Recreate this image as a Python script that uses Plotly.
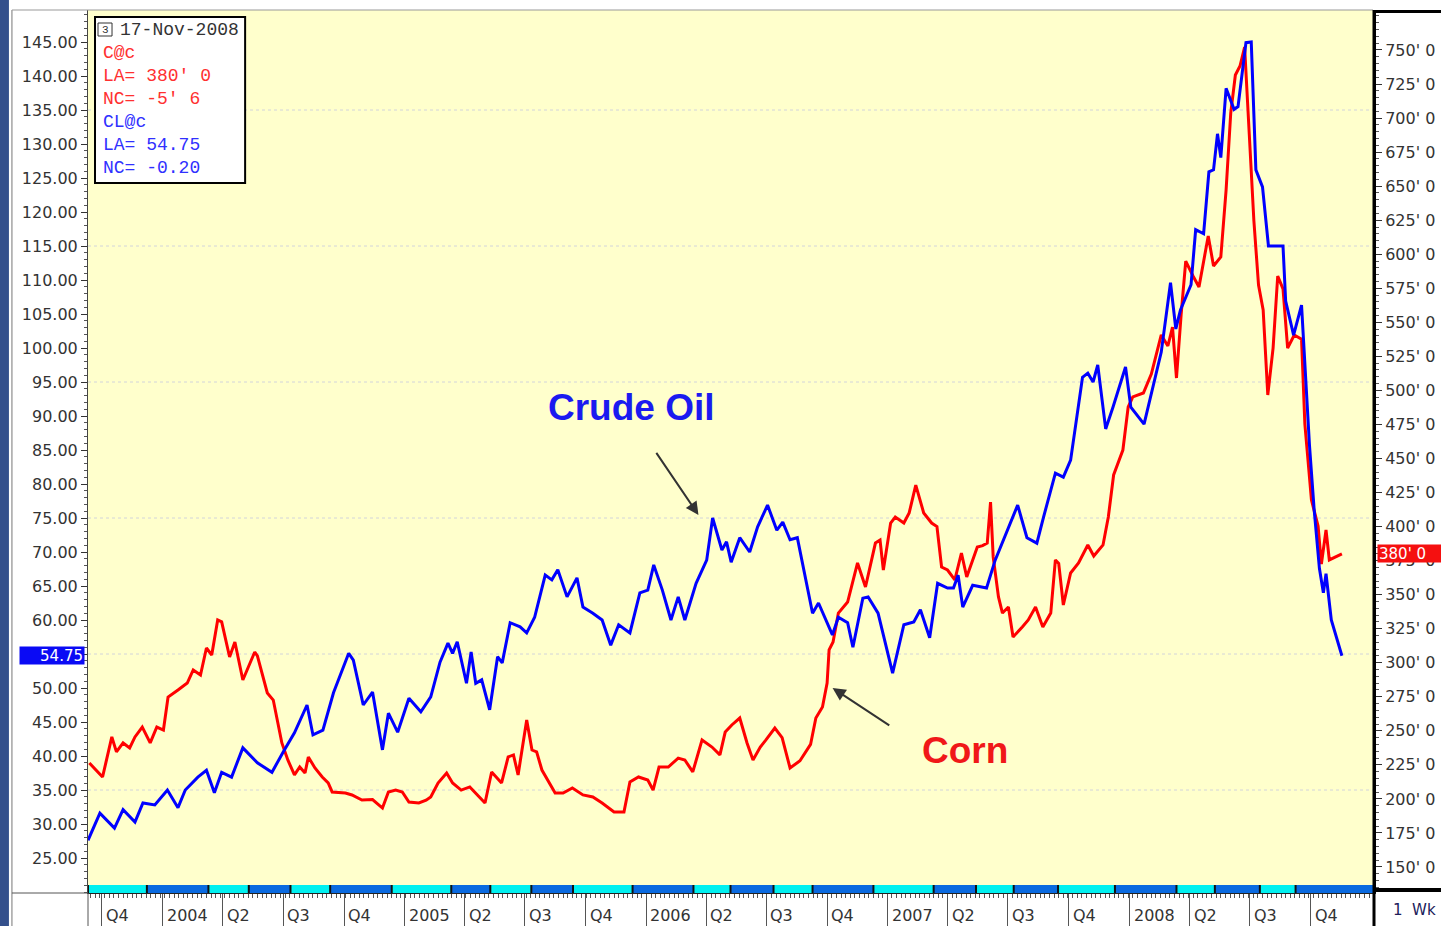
import plotly.graph_objects as go

# ---------------- data ----------------
crude_dates = [
    "2003-09-10", "2003-09-28", "2003-10-20", "2003-11-02", "2003-11-20", "2003-12-02", "2003-12-20",
    "2004-01-08", "2004-01-24", "2004-02-04", "2004-02-23", "2004-03-07", "2004-03-19", "2004-03-30",
    "2004-04-14", "2004-05-01", "2004-05-23", "2004-06-14", "2004-07-01", "2004-07-18", "2004-08-06",
    "2004-08-15", "2004-08-30", "2004-09-15", "2004-10-08", "2004-10-15", "2004-10-30", "2004-11-13",
    "2004-11-28", "2004-12-07", "2004-12-21", "2005-01-07", "2005-01-25", "2005-02-09", "2005-02-23",
    "2005-03-07", "2005-03-14", "2005-03-21", "2005-04-04", "2005-04-11", "2005-04-18", "2005-04-27",
    "2005-05-09", "2005-05-21", "2005-05-28", "2005-06-09", "2005-06-24", "2005-07-04", "2005-07-16",
    "2005-08-01", "2005-08-11", "2005-08-20", "2005-09-03", "2005-09-18", "2005-09-27", "2005-10-12",
    "2005-10-26", "2005-11-08", "2005-11-20", "2005-12-07", "2005-12-22", "2006-01-03", "2006-01-12",
    "2006-01-25", "2006-02-07", "2006-02-18", "2006-02-28", "2006-03-17", "2006-04-02", "2006-04-11",
    "2006-04-25", "2006-05-02", "2006-05-09", "2006-05-22", "2006-06-06", "2006-06-18", "2006-07-03",
    "2006-07-17", "2006-07-26", "2006-08-06", "2006-08-17", "2006-09-09", "2006-09-18", "2006-10-09",
    "2006-10-18", "2006-11-01", "2006-11-09", "2006-11-24", "2006-12-02", "2006-12-17", "2007-01-08",
    "2007-01-25", "2007-02-09", "2007-02-19", "2007-03-05", "2007-03-17", "2007-04-01", "2007-04-10",
    "2007-04-17", "2007-04-24", "2007-05-09", "2007-05-30", "2007-06-12", "2007-06-30", "2007-07-16",
    "2007-07-30", "2007-08-14", "2007-08-24", "2007-09-11", "2007-09-23", "2007-10-04", "2007-10-22",
    "2007-10-30", "2007-11-07", "2007-11-14", "2007-11-26", "2007-12-07", "2007-12-26", "2008-01-03",
    "2008-01-23", "2008-02-18", "2008-03-03", "2008-03-11", "2008-03-18", "2008-04-03", "2008-04-10",
    "2008-04-22", "2008-04-30", "2008-05-07", "2008-05-13", "2008-05-18", "2008-05-26", "2008-06-07",
    "2008-06-13", "2008-06-25", "2008-07-03", "2008-07-10", "2008-07-20", "2008-07-29", "2008-08-20",
    "2008-08-24", "2008-09-05", "2008-09-17", "2008-09-29", "2008-10-06", "2008-10-14", "2008-10-20",
    "2008-10-24", "2008-11-01", "2008-11-17",
]
crude_values = [
    27.6, 31.6, 29.4, 32.1, 30.3, 33.1, 32.8,
    35.0, 32.4, 35.0, 36.9, 37.9, 34.6, 37.6,
    36.9, 41.2, 39.0, 37.6, 40.6, 43.4, 47.5,
    43.1, 43.8, 49.3, 55.1, 54.1, 47.5, 49.4,
    40.9, 46.3, 43.5, 48.5, 46.5, 48.7, 53.8,
    56.6, 55.1, 56.8, 50.7, 55.3, 50.7, 51.2,
    46.8, 54.6, 53.7, 59.6, 59.0, 58.1, 60.4,
    66.6, 65.9, 67.4, 63.4, 66.2, 61.9, 61.0,
    60.0, 56.3, 59.3, 58.1, 64.0, 64.4, 68.1,
    64.4, 60.0, 63.4, 60.0, 65.4, 68.8, 75.0,
    70.3, 71.5, 68.5, 72.1, 70.0, 73.7, 76.9,
    73.2, 74.4, 71.8, 72.1, 61.0, 62.5, 57.8,
    60.4, 59.6, 56.0, 63.2, 63.4, 61.0, 52.2,
    59.3, 59.7, 61.5, 57.4, 65.4, 64.7, 64.7,
    66.6, 61.9, 65.1, 64.7, 68.8, 73.2, 76.9,
    72.1, 71.3, 75.1, 81.6, 81.0, 83.5, 95.7,
    96.3, 95.0, 97.5, 88.1, 91.3, 97.2, 91.3,
    88.8, 99.4, 109.6, 102.8, 105.6, 109.3, 117.4,
    116.8, 125.9, 126.2, 131.5, 128.0, 138.2, 135.1,
    135.5, 144.9, 145.0, 126.2, 123.7, 115.0, 115.0,
    106.9, 101.9, 106.3, 85.7, 76.3, 67.6, 64.0,
    66.8, 60.0, 54.75,
]

corn_dates = [
    "2003-09-12", "2003-10-02", "2003-10-16", "2003-10-23", "2003-11-02", "2003-11-12", "2003-11-20",
    "2003-12-01", "2003-12-13", "2003-12-23", "2004-01-02", "2004-01-09", "2004-01-24", "2004-02-07",
    "2004-02-16", "2004-02-27", "2004-03-07", "2004-03-15", "2004-03-24", "2004-03-30", "2004-04-11",
    "2004-04-19", "2004-05-01", "2004-05-19", "2004-05-23", "2004-06-07", "2004-06-16", "2004-06-29",
    "2004-07-08", "2004-07-18", "2004-07-26", "2004-08-03", "2004-08-08", "2004-08-18", "2004-08-29",
    "2004-09-07", "2004-09-13", "2004-10-03", "2004-10-13", "2004-10-28", "2004-11-13", "2004-11-28",
    "2004-12-07", "2004-12-18", "2004-12-28", "2005-01-07", "2005-01-22", "2005-02-02", "2005-02-09",
    "2005-02-20", "2005-03-05", "2005-03-14", "2005-03-27", "2005-04-09", "2005-05-02", "2005-05-12",
    "2005-05-27", "2005-06-06", "2005-06-14", "2005-06-21", "2005-07-04", "2005-07-12", "2005-07-19",
    "2005-07-27", "2005-08-16", "2005-08-28", "2005-09-11", "2005-09-27", "2005-10-12", "2005-10-26",
    "2005-11-13", "2005-11-28", "2005-12-07", "2005-12-20", "2006-01-03", "2006-01-11", "2006-01-20",
    "2006-02-03", "2006-02-18", "2006-02-28", "2006-03-12", "2006-03-26", "2006-04-10", "2006-04-22",
    "2006-04-30", "2006-05-10", "2006-05-22", "2006-06-02", "2006-06-11", "2006-06-22", "2006-06-30",
    "2006-07-14", "2006-07-25", "2006-08-06", "2006-08-21", "2006-09-06", "2006-09-14", "2006-09-24",
    "2006-10-01", "2006-10-04", "2006-10-10", "2006-10-18", "2006-11-01", "2006-11-16", "2006-11-28",
    "2006-12-13", "2006-12-20", "2006-12-25", "2007-01-05", "2007-01-12", "2007-01-25", "2007-02-02",
    "2007-02-12", "2007-02-24", "2007-03-08", "2007-03-16", "2007-03-23", "2007-04-01", "2007-04-12",
    "2007-04-22", "2007-04-30", "2007-05-08", "2007-05-16", "2007-05-24", "2007-05-31", "2007-06-05",
    "2007-06-09", "2007-06-17", "2007-06-23", "2007-07-02", "2007-07-09", "2007-07-23", "2007-08-01",
    "2007-08-12", "2007-08-23", "2007-09-04", "2007-09-11", "2007-09-16", "2007-09-23", "2007-10-04",
    "2007-10-16", "2007-10-30", "2007-11-08", "2007-11-22", "2007-11-30", "2007-12-08", "2007-12-22",
    "2007-12-30", "2008-01-06", "2008-01-22", "2008-02-03", "2008-02-18", "2008-02-28", "2008-03-06",
    "2008-03-12", "2008-03-19", "2008-03-26", "2008-04-06", "2008-04-15", "2008-04-29", "2008-05-07",
    "2008-05-18", "2008-05-26", "2008-06-02", "2008-06-09", "2008-06-16", "2008-06-23", "2008-06-30",
    "2008-07-07", "2008-07-14", "2008-07-21", "2008-07-28", "2008-08-05", "2008-08-12", "2008-08-20",
    "2008-08-27", "2008-09-06", "2008-09-17", "2008-09-22", "2008-10-02", "2008-10-12", "2008-10-17",
    "2008-10-24", "2008-10-29", "2008-11-17",
]
corn_values = [
    226.4, 216.1, 245.5, 234.5, 241.1, 237.4, 245.5,
    252.8, 241.1, 252.8, 250.6, 274.8, 280.0, 285.1,
    294.7, 291.0, 310.8, 305.7, 331.4, 330.0, 304.2,
    315.2, 287.3, 307.9, 305.0, 277.8, 272.6, 241.1,
    228.6, 217.6, 223.4, 219.0, 230.8, 222.7, 216.1,
    211.7, 205.1, 204.3, 202.9, 199.2, 199.5, 193.3,
    205.1, 206.5, 205.1, 197.7, 197.0, 199.0, 201.4,
    211.7, 219.0, 211.7, 206.5, 208.8, 197.0, 219.8,
    211.7, 230.8, 232.3, 217.6, 258.0, 235.9, 234.5,
    221.2, 204.3, 204.3, 208.0, 202.9, 201.4, 197.0,
    190.4, 190.4, 212.4, 216.1, 213.9, 206.5, 223.4,
    223.4, 230.0, 228.6, 219.8, 243.3, 238.1, 232.3,
    249.1, 254.3, 259.4, 241.1, 228.6, 238.1, 243.0,
    252.0, 245.0, 222.7, 228.0, 240.0, 259.4, 267.5,
    285.1, 309.4, 315.2, 336.5, 344.6, 373.3, 355.6,
    387.9, 390.1, 368.1, 402.6, 407.0, 402.6, 410.0,
    430.5, 410.0, 402.6, 400.0, 370.3, 368.1, 360.8,
    380.6, 363.0, 373.3, 385.0, 386.0, 387.9, 418.0,
    377.7, 348.3, 336.5, 340.9, 318.9, 326.3, 331.4,
    340.9, 326.3, 336.5, 375.5, 373.0, 342.4, 365.9,
    373.3, 386.5, 378.4, 386.5, 407.0, 437.9, 456.2,
    487.8, 495.2, 498.1, 512.0, 540.7, 532.6, 546.5,
    509.1, 555.4, 595.0, 584.0, 575.9, 613.4, 591.4,
    598.0, 647.2, 703.7, 731.6, 738.2, 752.2, 688.3,
    624.4, 577.4, 559.1, 496.6, 531.1, 584.0, 574.5,
    531.1, 540.7, 537.7, 475.3, 419.5, 400.4, 372.5,
    397.5, 375.5, 380.0,
]

crude_ticks = [25, 30, 35, 40, 45, 50, 55, 60, 65, 70, 75, 80, 85, 90, 95, 100,
               105, 110, 115, 120, 125, 130, 135, 140, 145]
# the 55.00 label is hidden behind the last-value flag in the original
crude_tick_labels = ["" if v == 55 else "%.2f" % v for v in crude_ticks]
corn_ticks = [150, 175, 200, 225, 250, 275, 300, 325, 350, 375, 400, 425, 450,
              475, 500, 525, 550, 575, 600, 625, 650, 675, 700, 725, 750]
corn_tick_labels = ["%d' 0" % v for v in corn_ticks]
grid_levels = [35, 55, 75, 95, 115, 135]

quarter_starts = [
    "2003-10-01", "2004-01-01", "2004-04-01", "2004-07-01", "2004-10-01",
    "2005-01-01", "2005-04-01", "2005-07-01", "2005-10-01",
    "2006-01-01", "2006-04-01", "2006-07-01", "2006-10-01",
    "2007-01-01", "2007-04-01", "2007-07-01", "2007-10-01",
    "2008-01-01", "2008-04-01", "2008-07-01", "2008-10-01",
]
quarter_labels = [
    "Q4", "2004", "Q2", "Q3", "Q4", "2005", "Q2", "Q3", "Q4",
    "2006", "Q2", "Q3", "Q4", "2007", "Q2", "Q3", "Q4",
    "2008", "Q2", "Q3", "Q4",
]
roll_dates = [
    "2003-09-10", "2003-12-08", "2004-03-10", "2004-05-10", "2004-07-12", "2004-09-10",
    "2004-12-12", "2005-03-12", "2005-05-10", "2005-07-11", "2005-09-12", "2005-12-11",
    "2006-03-13", "2006-05-08", "2006-07-12", "2006-09-09", "2006-12-10", "2007-03-11",
    "2007-05-14", "2007-07-10", "2007-09-15", "2007-12-10", "2008-03-12", "2008-05-09",
    "2008-07-16", "2008-09-08", "2009-01-03",
]

legend_lines = [
    ("C@c", "#FF3030"), ("LA= 380' 0", "#FF3030"), ("NC= -5' 6", "#FF3030"),
    ("CL@c", "#3030FF"), ("LA= 54.75", "#3030FF"), ("NC= -0.20", "#3030FF"),
]
last_crude = crude_values[-1]
last_corn = corn_values[-1]

# ---------------- geometry ----------------
# the page is captured slightly larger than the target and squeezed to 1441x926,
# so the figure is laid out on a matching canvas
W, H = 1446, 936
KX, KY = W / 1441.0, H / 926.0
L = 88 * KX
T = 10 * KY
R = W - 1372 * KX
B = H - 893 * KY
PW, PH = W - L - R, H - T - B


def px(xr):
    """reference x pixel -> paper x"""
    return (xr * KX - L) / PW


def py(yr):
    """reference y pixel -> paper y"""
    return (H - B - yr * KY) / PH


fig = go.Figure()

fig.add_trace(go.Scatter(x=corn_dates, y=corn_values, mode="lines", yaxis="y",
                         line=dict(color="#FF0000", width=3), name="Corn",
                         hoverinfo="x+y"))
fig.add_trace(go.Scatter(x=crude_dates, y=crude_values, mode="lines", yaxis="y2",
                         line=dict(color="#0000FF", width=3), name="Crude Oil",
                         hoverinfo="x+y"))

axis_font = dict(family="DejaVu Sans", size=16, color="#333333")

shapes = []
annotations = []

# faint dotted grid
for g in grid_levels:
    shapes.append(dict(type="line", xref="paper", yref="y2", x0=0, x1=1, y0=g, y1=g,
                       line=dict(color="#D2D4DA", width=1, dash="dot"), layer="below"))

# contract stripe at the bottom of the plot
stripe_colors = ["#00F0F0", "#0A6AE0"]
for i in range(len(roll_dates) - 1):
    shapes.append(dict(type="rect", xref="x", yref="paper", x0=roll_dates[i], x1=roll_dates[i + 1],
                       y0=0, y1=py(885), fillcolor=stripe_colors[i % 2], line=dict(width=0),
                       layer="above"))
    shapes.append(dict(type="line", xref="x", yref="paper", x0=roll_dates[i], x1=roll_dates[i],
                       y0=0, y1=py(885), line=dict(color="#111111", width=2), layer="above"))

# quarter labels under the axis
for d, lab in zip(quarter_starts, quarter_labels):
    annotations.append(dict(x=d, xref="x", y=py(915), yref="paper", text=lab, showarrow=False,
                            xanchor="left", yanchor="middle", xshift=2, font=axis_font))

# frame decorations
shapes += [
    dict(type="rect", xref="paper", yref="paper", x0=px(-2), x1=px(9), y0=py(940), y1=py(-2),
         fillcolor="#34508C", line=dict(width=0)),
    dict(type="line", xref="paper", yref="paper", x0=px(12), x1=px(12), y0=py(940), y1=py(10),
         line=dict(color="#777777", width=1)),
    dict(type="line", xref="paper", yref="paper", x0=px(12), x1=1, y0=1, y1=1,
         line=dict(color="#999999", width=1)),
    dict(type="line", xref="paper", yref="paper", x0=px(12), x1=0, y0=0, y1=0,
         line=dict(color="#555555", width=1)),
    dict(type="line", xref="paper", yref="paper", x0=0, x1=0, y0=py(940), y1=0,
         line=dict(color="#555555", width=1)),
    dict(type="line", xref="paper", yref="paper", x0=px(1373), x1=px(1373), y0=py(940), y1=py(10),
         line=dict(color="#000000", width=3)),
    dict(type="line", xref="paper", yref="paper", x0=px(1372), x1=px(1450), y0=py(11.5), y1=py(11.5),
         line=dict(color="#000000", width=3)),
    dict(type="line", xref="paper", yref="paper", x0=px(1372), x1=px(1450), y0=py(890), y1=py(890),
         line=dict(color="#000000", width=4)),
    # info box
    dict(type="rect", xref="paper", yref="paper", x0=px(95), x1=px(245), y0=py(183), y1=py(17),
         fillcolor="#FFFFFF", line=dict(color="#000000", width=2)),
    dict(type="rect", xref="paper", yref="paper", x0=px(98), x1=px(112), y0=py(36), y1=py(23),
         fillcolor="#FFFFFF", line=dict(color="#333333", width=1)),
]

annotations.append(dict(x=px(105), y=py(30), xref="paper", yref="paper", text="3", showarrow=False,
                        xanchor="center", yanchor="middle",
                        font=dict(family="Liberation Mono", size=11, color="#333333")))
annotations.append(dict(x=px(118), y=py(30), xref="paper", yref="paper", text="17-Nov-2008",
                        showarrow=False, xanchor="left", yanchor="middle",
                        font=dict(family="Liberation Mono", size=18, color="#333333")))
for i, (txt, col) in enumerate(legend_lines):
    annotations.append(dict(x=px(101), y=py(53 + i * 23), xref="paper", yref="paper", text=txt,
                            showarrow=False, xanchor="left", yanchor="middle",
                            font=dict(family="Liberation Mono", size=18, color=col)))

# last value flags
annotations.append(dict(x=px(85), y=last_crude, xref="paper", yref="y2", text="%.2f" % last_crude,
                        showarrow=False, xanchor="right", yanchor="middle", width=62, height=15,
                        align="right", bgcolor="#0A0AF5", borderpad=1,
                        font=dict(family="DejaVu Sans", size=15, color="#FFFFFF")))
annotations.append(dict(x=px(1376), y=last_corn, xref="paper", yref="y", text="%d' 0" % last_corn,
                        showarrow=False, xanchor="left", yanchor="middle", width=62, height=15,
                        align="left", bgcolor="#F51010", borderpad=1,
                        font=dict(family="DejaVu Sans", size=15, color="#FFFFFF")))
annotations.append(dict(x=px(1413), y=py(910), xref="paper", yref="paper", text="1  Wk",
                        showarrow=False, xanchor="center", yanchor="middle",
                        font=dict(family="DejaVu Sans", size=15, color="#20205A")))

# series labels with arrows
annotations.append(dict(x=px(631), y=py(408), xref="paper", yref="paper", text="<b>Crude Oil</b>",
                        showarrow=False, xanchor="center", yanchor="middle",
                        font=dict(family="Liberation Sans", size=37, color="#1A1AF0")))
annotations.append(dict(x=px(964), y=py(750), xref="paper", yref="paper", text="<b>Corn</b>",
                        showarrow=False, xanchor="center", yanchor="middle",
                        font=dict(family="Liberation Sans", size=37, color="#F01818")))
annotations.append(dict(x=px(698), y=py(515), xref="paper", yref="paper", text="", showarrow=True,
                        ax=-43 * KX, ay=-63 * KY, arrowhead=2, arrowsize=1.3, arrowwidth=2,
                        arrowcolor="#333333"))
annotations.append(dict(x=px(832), y=py(688), xref="paper", yref="paper", text="", showarrow=True,
                        ax=58 * KX, ay=38 * KY, arrowhead=2, arrowsize=1.3, arrowwidth=2,
                        arrowcolor="#333333"))

fig.update_layout(
    width=W, height=H,
    margin=dict(l=L, r=R, t=T, b=B, pad=0),
    paper_bgcolor="#FFFFFF",
    plot_bgcolor="#FFFFCC",
    showlegend=False,
    xaxis=dict(
        type="date", range=["2003-09-10", "2009-01-03"], showgrid=False, zeroline=False,
        showline=True, linecolor="#222222", linewidth=1,
        tickmode="array", tickvals=quarter_starts, ticks="outside", ticklen=33 * KY,
        tickcolor="#555555", tickwidth=1, showticklabels=False,
        minor=dict(ticks="outside", tickmode="linear", tick0="2003-09-14", dtick=7 * 86400000,
                   ticklen=4, tickcolor="#555555", tickwidth=1),
    ),
    yaxis=dict(
        side="right", range=[130.9, 779.36], showgrid=False, zeroline=False,
        showline=True, linecolor="#000000", linewidth=3,
        tickmode="array", tickvals=corn_ticks, ticktext=corn_tick_labels,
        ticks="outside", ticklen=6, tickcolor="#333333", tickfont=axis_font,
        minor=dict(ticks="outside", tickmode="linear", tick0=0, dtick=5, ticklen=3,
                   tickcolor="#555555"),
    ),
    yaxis2=dict(
        side="left", overlaying="y", range=[19.853, 149.706], showgrid=False, zeroline=False,
        showline=True, linecolor="#444444", linewidth=1,
        tickmode="array", tickvals=crude_ticks, ticktext=crude_tick_labels,
        ticks="outside", ticklen=6, tickcolor="#333333", tickfont=axis_font,
        minor=dict(ticks="outside", tickmode="linear", tick0=0, dtick=1, ticklen=3,
                   tickcolor="#555555"),
    ),
    shapes=shapes,
    annotations=annotations,
)

# remove the default 8px page margin so the figure sits at the window origin
fig.write_html("out.html", config={"displayModeBar": False},
               post_script="document.body.style.margin='0px';")
